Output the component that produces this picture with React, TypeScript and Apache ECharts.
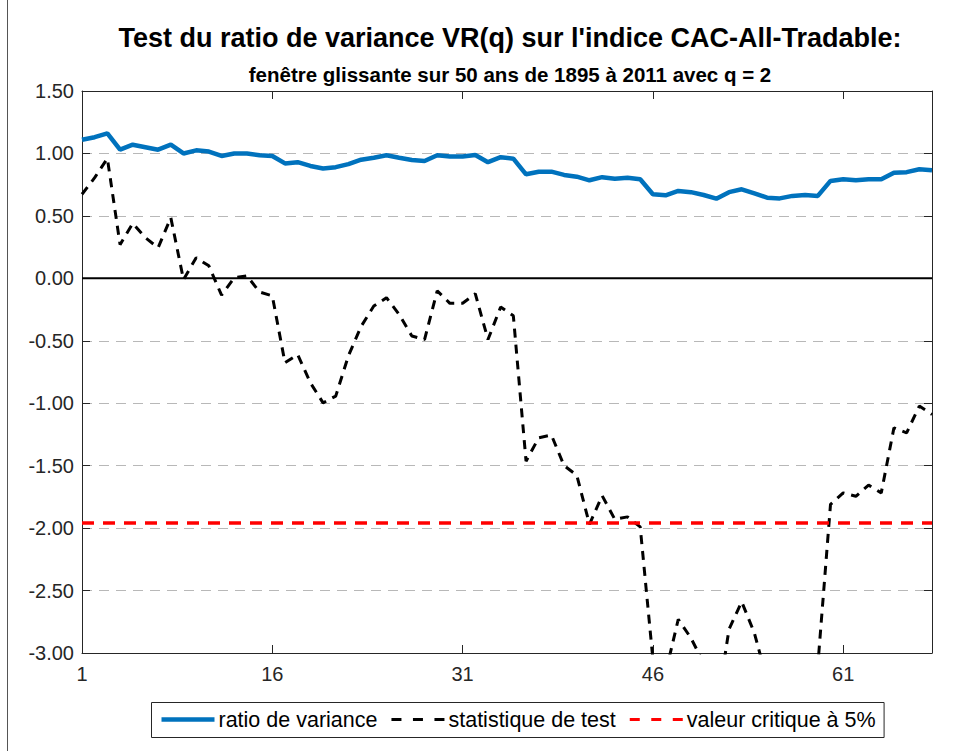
import React, { useEffect, useRef } from "react";
import * as echarts from "echarts";

const windows: number[] = Array.from({ length: 68 }, (_, i) => i + 1);

const ratioVariance: number[] = [
  1.11, 1.13, 1.16, 1.03, 1.07, 1.05, 1.03, 1.07, 1.0, 1.025,
  1.015, 0.98, 1.0, 1.0, 0.985, 0.98, 0.92, 0.93, 0.9, 0.88,
  0.89, 0.915, 0.95, 0.966, 0.985, 0.966, 0.948, 0.94, 0.985, 0.975,
  0.975, 0.988, 0.93, 0.97, 0.958, 0.833, 0.854, 0.854, 0.828, 0.814,
  0.785, 0.81, 0.798, 0.806, 0.793, 0.673, 0.665, 0.7, 0.69, 0.667,
  0.638, 0.69, 0.713, 0.68, 0.646, 0.64, 0.66, 0.667, 0.66, 0.78,
  0.793, 0.785, 0.793, 0.793, 0.846, 0.85, 0.873, 0.865,
];

const statTest: number[] = [
  0.673, 0.806, 0.96, 0.27, 0.44, 0.325, 0.245, 0.486, -0.01, 0.165,
  0.1, -0.135, 0.005, 0.02, -0.11, -0.14, -0.676, -0.61, -0.836, -0.997,
  -0.943, -0.62, -0.385, -0.222, -0.155, -0.29, -0.462, -0.49, -0.1, -0.2,
  -0.2, -0.123, -0.49, -0.23, -0.3, -1.464, -1.277, -1.255, -1.5, -1.576,
  -1.97, -1.74, -1.93, -1.91, -1.99, -3.05, -3.16, -2.73, -2.88, -3.08,
  -3.47, -2.81, -2.59, -2.84, -3.22, -3.4, -3.5, -3.4, -3.1, -1.81,
  -1.718, -1.745, -1.656, -1.718, -1.197, -1.237, -1.023, -1.09,
];

const criticalValue = -1.96;
const xRange: number[] = [1, 68];
const yRange: number[] = [-3, 1.5];

const titleText = "Test du ratio de variance VR(q) sur l'indice CAC-All-Tradable:";
const subtitleText = "fenêtre glissante sur 50 ans de 1895 à 2011 avec q = 2";
const legendNames: string[] = ["ratio de variance", "statistique de test", "valeur critique à 5%"];

const FONT = "'Liberation Sans', Arial, Helvetica, sans-serif";
const AXIS_COLOR = "#262626";
const BLUE = "#0072BD";
const RED = "#FF0000";

const LEGEND_FONT_SIZE = 21.5;

function measure(text: string, size: number): number {
  const c = document.createElement("canvas").getContext("2d");
  if (!c) return text.length * size * 0.5;
  c.font = `${size}px 'Liberation Sans', Arial, sans-serif`;
  return c.measureText(text).width;
}

export default function App() {
  const ref = useRef<HTMLDivElement>(null);

  useEffect(() => {
    if (!ref.current) return;
    const chart = echarts.init(ref.current, undefined, { renderer: "svg" });

    const baseX = {
      type: "value" as const,
      min: xRange[0],
      max: xRange[1],
      interval: 15,
      axisLine: { show: true, onZero: false, lineStyle: { color: AXIS_COLOR, width: 1 } },
      axisTick: { show: true, inside: true, length: 8, lineStyle: { color: AXIS_COLOR } },
      splitLine: { show: false },
    };
    const baseY = {
      type: "value" as const,
      min: yRange[0],
      max: yRange[1],
      interval: 0.5,
      axisLine: { show: true, onZero: false, lineStyle: { color: AXIS_COLOR, width: 1 } },
      axisTick: { show: true, inside: true, length: 8, lineStyle: { color: AXIS_COLOR } },
    };

    // Manual legend (box, line samples, labels)
    const legendStyles = [
      { color: BLUE, width: 4.5, dash: null as number[] | null },
      { color: "#000000", width: 3, dash: [10, 11.5] },
      { color: RED, width: 3, dash: [10, 11.5] },
    ];
    const legendLeft = 151;
    const legendTop = 702;
    const legendHeight = 35;
    const iconW = 53;
    const midY = legendTop + legendHeight / 2;
    const legendEls: any[] = [];
    let cx = legendLeft + 10.5;
    legendNames.forEach((name, i) => {
      const st = legendStyles[i];
      legendEls.push({
        type: "line",
        shape: { x1: cx, y1: midY, x2: cx + iconW, y2: midY },
        style: {
          stroke: st.color,
          lineWidth: st.width,
          lineDash: st.dash || undefined,
        },
        z: 101,
      });
      cx += iconW + 4;
      legendEls.push({
        type: "text",
        x: cx,
        y: midY,
        style: {
          text: name,
          fontFamily: FONT,
          fontSize: LEGEND_FONT_SIZE,
          fill: "#000000",
          align: "left",
          verticalAlign: "middle",
        },
        z: 101,
      });
      cx += measure(name, LEGEND_FONT_SIZE) + (i < legendNames.length - 1 ? 14 : 8);
    });
    legendEls.unshift({
      type: "rect",
      shape: { x: legendLeft + 0.5, y: legendTop + 0.5, width: cx - legendLeft, height: legendHeight },
      style: { fill: "#ffffff", stroke: AXIS_COLOR, lineWidth: 1 },
      z: 100,
    });

    chart.setOption({
      animation: false,
      backgroundColor: "#ffffff",
      textStyle: { fontFamily: FONT },
      grid: { left: 82, right: 22, top: 91, bottom: 98, containLabel: false },
      graphic: [
        {
          type: "line",
          shape: { x1: 7.5, y1: 0, x2: 7.5, y2: 751 },
          style: { stroke: "#555555", lineWidth: 1 },
        },
        {
          type: "text",
          x: 510,
          y: 38,
          style: {
            text: titleText,
            fontFamily: FONT,
            fontSize: 27,
            fontWeight: "bold",
            fill: "#000000",
            align: "center",
            verticalAlign: "middle",
          },
        },
        {
          type: "text",
          x: 510,
          y: 74,
          style: {
            text: subtitleText,
            fontFamily: FONT,
            fontSize: 20.5,
            fontWeight: "bold",
            fill: "#000000",
            align: "center",
            verticalAlign: "middle",
          },
        },
        ...legendEls,
      ],
      xAxis: [
        {
          ...baseX,
          position: "bottom",
          axisLabel: {
            show: true,
            showMaxLabel: false,
            margin: 11,
            color: AXIS_COLOR,
            fontSize: 20,
            fontFamily: FONT,
          },
        },
        {
          ...baseX,
          position: "top",
          axisLabel: { show: false },
        },
      ],
      yAxis: [
        {
          ...baseY,
          position: "left",
          axisLabel: {
            show: true,
            margin: 8,
            color: AXIS_COLOR,
            fontSize: 20,
            fontFamily: FONT,
            formatter: (v: number) => v.toFixed(2),
          },
          splitLine: {
            show: true,
            lineStyle: { color: "#b8b8b8", width: 1, type: [10, 7] },
          },
        },
        {
          ...baseY,
          position: "right",
          axisLabel: { show: false },
          splitLine: { show: false },
        },
      ],
      series: [
        {
          name: "zero",
          type: "line",
          xAxisIndex: 0,
          yAxisIndex: 0,
          data: [
            [xRange[0], 0],
            [xRange[1], 0],
          ],
          symbol: "none",
          lineStyle: { color: "#000000", width: 2 },
          silent: true,
          z: 2,
        },
        {
          name: legendNames[0],
          type: "line",
          xAxisIndex: 0,
          yAxisIndex: 0,
          data: windows.map((x, i) => [x, ratioVariance[i]]),
          symbol: "none",
          lineStyle: { color: BLUE, width: 4.5 },
          itemStyle: { color: BLUE },
          z: 3,
        },
        {
          name: legendNames[1],
          type: "line",
          xAxisIndex: 0,
          yAxisIndex: 0,
          data: windows.map((x, i) => [x, statTest[i]]),
          symbol: "none",
          clip: true,
          lineStyle: { color: "#000000", width: 3, type: [9, 7] },
          itemStyle: { color: "#000000" },
          z: 4,
        },
        {
          name: legendNames[2],
          type: "line",
          xAxisIndex: 0,
          yAxisIndex: 0,
          data: [
            [xRange[0], criticalValue],
            [xRange[1], criticalValue],
          ],
          symbol: "none",
          lineStyle: { color: RED, width: 3.5, type: [12, 9] },
          itemStyle: { color: RED },
          z: 5,
        },
      ],
    });

    return () => chart.dispose();
  }, []);

  return (
    <div
      ref={ref}
      style={{ position: "fixed", left: 0, top: 0, width: 954, height: 751, background: "#fff" }}
    />
  );
}
